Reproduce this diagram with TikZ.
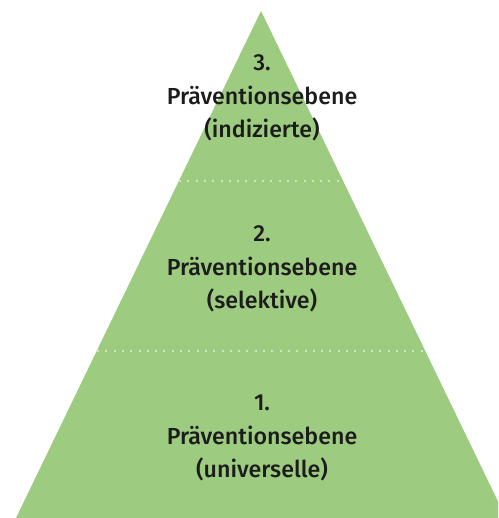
\documentclass[tikz,border=0pt]{standalone}
\usepackage{fontspec}
\setmainfont{Fira Sans}[BoldFont={* Medium}]
\usetikzlibrary{positioning}
\definecolor{pyrgreen}{RGB}{157,203,127}
\definecolor{dotgreen}{RGB}{208,230,194}
\definecolor{textink}{RGB}{28,28,28}
\tikzset{
  level/.style={align=center,text=textink,inner sep=0pt,
    font=\fontsize{23.2}{33.5}\selectfont\bfseries},
  sepline/.style={draw=dotgreen,line width=2pt,
    dash pattern=on 2pt off 6.3pt}
}

\begin{document}
\begin{tikzpicture}[x=1pt,y=1pt]
  \useasboundingbox (0,0) rectangle (498,518);
  \clip (0,0) rectangle (498,518);
  % pyramid
  \fill[pyrgreen] (16,0) -- (261,507) -- (506,0) -- cycle;
  \coordinate (s2l) at (97,167);
  \coordinate (s2r) at (426,167);
  \coordinate (s3l) at (179,337);
  \coordinate (s3r) at (343,337);
  \draw[sepline] (s2l) -- (s2r);
  \draw[sepline] (s3l) -- (s3r);
  % levels
  \node[level] (third) at (262,420) {3.\\Präventionsebene\\(indizierte)};
  \node[level] (second) at (262,249) {2.\\Präventionsebene\\(selektive)};
  \node[level] (first) at (262,80) {1.\\Präventionsebene\\(universelle)};
\end{tikzpicture}
\end{document}
